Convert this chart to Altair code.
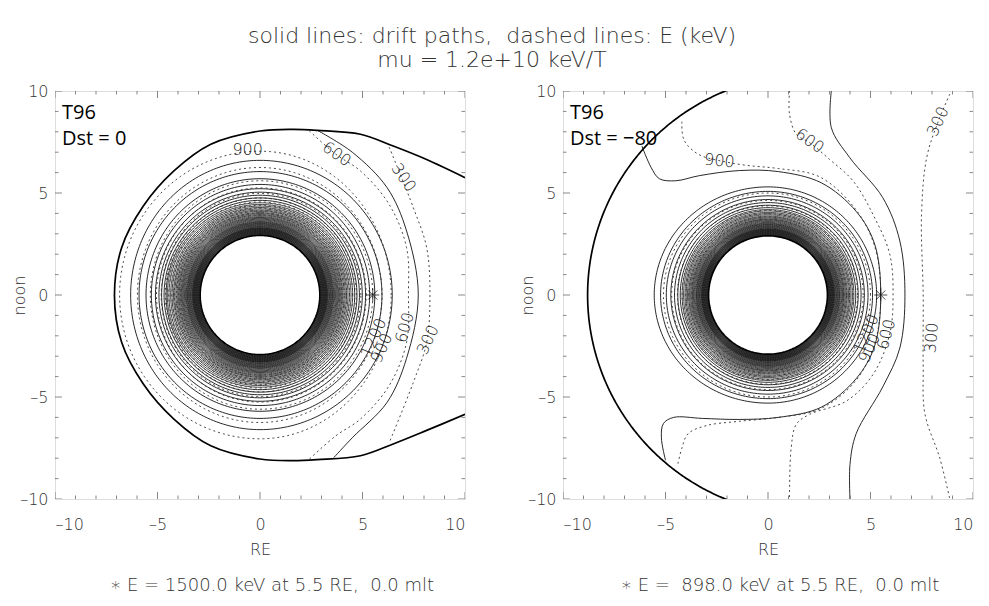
import math
import altair as alt
import pandas as pd

W, H = 410, 408
NPTS = 240
SP = "\u00a0"

# ---------------- data ----------------
TITLE = ["solid lines: drift paths," + SP + " dashed lines: E (keV)", "mu = 1.2e+10 keV/T"]
TICK_VALUES = list(range(-10, 11))
AXIS_LABELS = [-10, -5, 0, 5, 10]

# ----- left panel: T96, Dst = 0 -----
L_name = ["T96", "Dst = 0"]
L_note = "\u2217 E = 1500.0 keV at 5.5 RE," + SP + " 0.0 mlt"
L_inner = 2.92
L_dense = [2.96, 2.98, 3.00, 3.02, 3.04, 3.06, 3.08, 3.10, 3.12, 3.14, 3.16, 3.18, 3.20,
           3.22, 3.24, 3.26, 3.28, 3.30, 3.33, 3.36, 3.39, 3.42, 3.45, 3.48, 3.51,
           3.54, 3.57, 3.60, 3.64, 3.68, 3.72, 3.76, 3.80, 3.84, 3.89, 3.94, 3.99,
           4.04, 4.10, 4.16, 4.22, 4.29, 4.36, 4.44, 4.52]
# (right, left, top) radii of closed drift paths
L_solid = [(4.62, 4.58, 4.64), (4.73, 4.68, 4.76), (4.85, 4.80, 4.89), (4.99, 4.93, 5.04),
           (5.15, 5.10, 5.21), (5.35, 5.30, 5.42), (5.60, 5.56, 5.70), (5.95, 5.90, 6.05),
           (6.45, 6.31, 6.60)]
# (right, left, top) radii of E contours 900 ... 3900 keV
L_dash = [(6.40, 6.85, 7.05), (5.95, 5.98, 6.25), (5.50, 5.35, 5.60), (5.18, 5.05, 5.25),
          (4.92, 4.82, 4.98), (4.70, 4.62, 4.75), (4.52, 4.45, 4.56), (4.37, 4.30, 4.40),
          (4.23, 4.18, 4.26), (4.11, 4.07, 4.13), (4.00, 3.96, 4.02), (3.90, 3.87, 3.92)]
L_bnd_x = [10.0, 8.1, 6.5, 4.9, 2.8, 1.6, 0.0, -2.4, -4.2, -5.7, -6.75, -7.1,
           -6.75, -5.7, -4.2, -2.4, 0.0, 1.6, 2.8, 4.9, 6.5, 8.1, 10.0]
L_bnd_y = [5.75, 6.65, 7.3, 7.88, 8.07, 8.12, 8.04, 7.39, 6.08, 4.35, 2.32, 0.0,
           -2.32, -4.35, -6.08, -7.39, -8.04, -8.12, -8.07, -7.88, -7.3, -6.65, -5.85]
L_out_x = [2.8, 4.5, 6.2, 7.15, 7.72, 7.15, 6.2, 4.5, 3.6]
L_out_y = [8.07, 7.0, 5.26, 3.14, 0.0, -3.1, -5.26, -7.0, -7.97]
L_e600_x = [2.4, 3.7, 4.9, 6.3, 7.15, 7.24, 7.15, 6.3, 4.9, 3.7, 2.4]
L_e600_y = [8.05, 6.9, 6.08, 4.44, 2.32, 0.0, -2.32, -4.44, -6.08, -6.9, -8.05]
L_e300_x = [6.3, 7.48, 8.13, 8.29, 8.13, 7.48, 6.3]
L_e300_y = [7.25, 4.28, 2.32, 0.0, -2.32, -4.28, -7.25]
L_lab_t = ["900", "600", "300", "1200", "900", "600", "300"]
L_lab_x = [-0.6, 3.74, 7.0, 5.55, 5.95, 7.07, 8.2]
L_lab_y = [7.1, 6.9, 5.75, -2.1, -2.6, -1.6, -2.2]
L_lab_a = [0, 35, 55, 294, 294, 286, 295]

# ----- right panel: T96, Dst = -80 -----
R_name = ["T96", "Dst = \u221280"]
R_note = "\u2217 E =" + SP + " 898.0 keV at 5.5 RE," + SP + " 0.0 mlt"
R_inner = 2.9
R_dense = [2.93, 2.95, 2.97, 2.99, 3.01, 3.03, 3.05, 3.07, 3.09, 3.11, 3.13, 3.15, 3.17,
           3.19, 3.21, 3.23, 3.25, 3.28, 3.31, 3.34, 3.37, 3.40, 3.43, 3.46, 3.49,
           3.52, 3.56, 3.60, 3.64, 3.68, 3.72, 3.77, 3.82, 3.87, 3.93, 3.99, 4.05,
           4.12, 4.19]
R_solid = [(4.28, 4.28, 4.28), (4.40, 4.40, 4.40), (4.54, 4.56, 4.53), (4.70, 4.74, 4.68),
           (4.88, 4.96, 4.86), (5.10, 5.24, 5.08), (5.30, 5.55, 5.30)]
R_dash = [(5.00, 5.10, 5.00), (4.64, 4.70, 4.64), (4.37, 4.42, 4.37), (4.15, 4.19, 4.15),
          (3.98, 4.01, 3.98), (3.83, 3.86, 3.83), (3.70, 3.72, 3.70)]
# outer boundary: arc (centre x, centre y, radius, start deg, end deg)
R_bnd_arc = (2.0, 0.0, 10.8, 105.0, 255.0)
R_wing_x = [-6.15, -5.7, -5.3, -4.5, -3.35, -1.4, 0.5, 2.6, 4.3, 5.2, 5.5, 5.2, 4.3,
            2.6, 0.5, -1.4, -3.2, -4.6, -5.1, -5.2, -5.0]
R_wing_y = [7.3, 6.25, 5.7, 5.6, 5.85, 6.1, 6.05, 5.5, 4.1, 2.5, 0.0, -2.5, -4.1,
            -5.5, -6.0, -6.1, -6.05, -6.0, -6.3, -7.0, -8.1]
R_bulge_x = [3.09, 3.09, 3.99, 5.6, 6.43, 6.68, 6.43, 5.6, 4.3, 4.0, 4.0]
R_bulge_y = [10.0, 8.2, 6.73, 4.77, 2.65, 0.0, -2.6, -4.5, -6.8, -8.3, -10.0]
R_e900_x = [-4.2, -4.1, -3.4, -2.2, -1.0, 0.5, 2.5, 4.2, 5.2, 5.5, 5.2, 4.2, 2.5,
            0.5, -1.5, -3.0, -3.9, -4.2, -4.4]
R_e900_y = [8.5, 7.6, 6.9, 6.55, 6.35, 6.2, 5.8, 4.3, 2.4, 0.0, -2.4, -4.3, -5.6,
            -6.0, -6.2, -6.4, -6.8, -7.5, -8.3]
R_e600_x = [1.05, 1.05, 1.38, 2.03, 3.0, 4.15, 5.12, 5.94, 6.1, 5.94, 5.12, 3.82,
            2.03, 1.38, 1.13, 1.05]
R_e600_y = [10.0, 8.86, 7.88, 7.47, 6.65, 5.59, 3.95, 2.0, 0.0, -1.9, -3.9, -5.2,
            -5.85, -6.34, -7.5, -10.0]
R_e300_x = [8.87, 8.3, 7.74, 7.49, 7.57, 7.57, 7.65, 8.38, 8.87]
R_e300_y = [9.85, 8.5, 6.73, 3.96, 0.0, -3.4, -5.8, -8.0, -10.0]
R_lab_t = ["900", "600", "300", "1200", "900", "600", "300"]
R_lab_x = [-2.37, 2.03, 8.3, 4.8, 4.96, 5.78, 7.98]
R_lab_y = [6.57, 7.55, 8.5, -1.9, -2.6, -1.93, -2.1]
R_lab_a = [5, 35, 295, 294, 294, 285, 275]

STAR_X = [5.5]
STAR_Y = [0.0]

# ---------------- helpers ----------------
def ring(rr, rl, rt, cx=0.0, cy=0.0, a0=0.0, a1=360.0):
    xs, ys = [], []
    for k in range(NPTS + 1):
        t = math.radians(a0 + (a1 - a0) * k / NPTS)
        c, s = math.cos(t), math.sin(t)
        xs.append(cx + (rr if c >= 0 else rl) * c)
        ys.append(cy + rt * s)
    return xs, ys


def frame(curves):
    rows = []
    for cid, (xs, ys) in enumerate(curves):
        for i, (x, y) in enumerate(zip(xs, ys)):
            rows.append({"x": x, "y": y, "cid": cid, "i": i})
    return pd.DataFrame(rows)


XS = alt.Scale(domain=[-10, 10], nice=False, zero=False)
YS = alt.Scale(domain=[-10, 10], nice=False, zero=False)
FONT = "DejaVu Sans"
LW = 200
LABEL_COLOR = "#333"
LBL_EXPR = "replace(datum.label, '\u2212', '\u2013')"

XA = alt.Axis(values=AXIS_LABELS, ticks=False, grid=False, domain=False,
              labelFont=FONT, labelFontSize=16, labelFontWeight=LW, labelColor=LABEL_COLOR,
              labelPadding=17, labelExpr=LBL_EXPR, title="RE", titleFont=FONT,
              titleFontSize=16, titleFontWeight=LW, titleColor=LABEL_COLOR,
              titlePadding=9)
YA = alt.Axis(values=AXIS_LABELS, ticks=False, grid=False, domain=False,
              labelFont=FONT, labelFontSize=16, labelFontWeight=LW, labelColor=LABEL_COLOR,
              labelPadding=7, labelExpr=LBL_EXPR, title="noon", titleFont=FONT,
              titleFontSize=16, titleFontWeight=LW, titleColor=LABEL_COLOR,
              titleX=-36, titleY=H / 2, titleAngle=270, titleAlign="center",
              titleBaseline="middle")


def enc_xy(xf="x:Q", yf="y:Q"):
    return dict(x=alt.X(xf, scale=XS, axis=XA), y=alt.Y(yf, scale=YS, axis=YA))


def lines(df, width, color, dash=None, interp="linear"):
    kw = dict(strokeWidth=width, color=color, clip=True, interpolate=interp)
    if dash:
        kw["strokeDash"] = dash
    return alt.Chart(df).mark_line(**kw).encode(
        detail="cid:N", order="i:Q", **enc_xy())


def tick_layers():
    tdf = pd.DataFrame({"v": TICK_VALUES})
    base = alt.Chart(tdf).transform_calculate(len="datum.v % 5 == 0 ? 14 : 7")
    out = []
    for pos in (0, H):
        out.append(base.mark_tick(clip=True, color="#555", thickness=1).encode(
            x=alt.X("v:Q", scale=XS, axis=XA), y=alt.value(pos),
            size=alt.Size("len:Q", scale=None, legend=None)))
    for pos in (0, W):
        out.append(base.mark_tick(clip=True, color="#555", thickness=1).encode(
            y=alt.Y("v:Q", scale=YS, axis=YA), x=alt.value(pos),
            size=alt.Size("len:Q", scale=None, legend=None)))
    return out


def panel(name, note, inner, dense, solid, dash, thick_curves, thin_curves, dash_curves,
          lab_t, lab_x, lab_y, lab_a):
    dense_df = frame([ring(r, r, r) for r in dense])
    solid_df = frame([ring(*t) for t in solid])
    thin_df = frame(thin_curves)
    dash_df = frame([ring(*t) for t in dash])
    dash2_df = frame(dash_curves)
    thick_df = frame([ring(inner, inner, inner)])
    thick2_df = frame(thick_curves)

    layers = [
        lines(dense_df, 0.75, "#111"),
        lines(solid_df, 0.9, "#111"),
        lines(thin_df, 0.9, "#111", interp="catmull-rom"),
        lines(dash_df, 0.9, "#333", dash=[2, 3]),
        lines(dash2_df, 0.9, "#333", dash=[2, 3], interp="catmull-rom"),
        lines(thick_df, 1.7, "#000"),
        lines(thick2_df, 1.7, "#000", interp="catmull-rom"),
    ]
    lab_df = pd.DataFrame({"t": lab_t, "x": lab_x, "y": lab_y, "a": lab_a})
    for _, r in lab_df.iterrows():
        layers.append(alt.Chart(pd.DataFrame([r])).mark_text(
            font=FONT, fontSize=16, fontWeight=LW, color="#222", angle=float(r["a"])).encode(
            text="t:N", **enc_xy()))
    star_df = pd.DataFrame({"x": STAR_X, "y": STAR_Y})
    layers.append(alt.Chart(star_df).mark_point(
        shape="M-1,0L1,0M0,-1L0,1M-0.7,-0.7L0.7,0.7M-0.7,0.7L0.7,-0.7",
        size=170, stroke="#000", strokeWidth=1, filled=False).encode(**enc_xy()))
    for k, txt in enumerate(name):
        layers.append(alt.Chart(pd.DataFrame({"t": [txt]})).mark_text(
            font="Open Sans", fontSize=20, color="#000", align="left",
            baseline="middle").encode(
            x=alt.value(7), y=alt.value(22 + 26 * k), text="t:N"))
    layers.append(alt.Chart(pd.DataFrame({"t": [note]})).mark_text(
        font=FONT, fontSize=18, fontWeight=LW, color=LABEL_COLOR, align="center",
        baseline="middle").encode(
        x=alt.value(W / 2 + 12), y=alt.value(H + 87), text="t:N"))
    layers += tick_layers()
    return alt.layer(*layers).properties(width=W, height=H)


left = panel(
    L_name, L_note, L_inner, L_dense, L_solid, L_dash,
    thick_curves=[(L_bnd_x, L_bnd_y)],
    thin_curves=[(L_out_x, L_out_y)],
    dash_curves=[(L_e600_x, L_e600_y), (L_e300_x, L_e300_y)],
    lab_t=L_lab_t, lab_x=L_lab_x, lab_y=L_lab_y, lab_a=L_lab_a)

cx, cy, rad, a0, a1 = R_bnd_arc
bx, by = ring(rad, rad, rad, cx, cy, a0, a1)
right = panel(
    R_name, R_note, R_inner, R_dense, R_solid, R_dash,
    thick_curves=[(bx, by)],
    thin_curves=[(R_wing_x, R_wing_y), (R_bulge_x, R_bulge_y)],
    dash_curves=[(R_e900_x, R_e900_y), (R_e600_x, R_e600_y), (R_e300_x, R_e300_y)],
    lab_t=R_lab_t, lab_x=R_lab_x, lab_y=R_lab_y, lab_a=R_lab_a)

chart = alt.hconcat(left, right, spacing=52).properties(
    title=alt.TitleParams(TITLE, font=FONT, fontSize=22, fontWeight=LW,
                          color="#333", anchor="middle", lineHeight=24, offset=11),
    padding={"left": 10, "top": 24, "right": 2, "bottom": 2},
).configure_view(stroke="#555", strokeWidth=1).configure(background="white")

chart.save("out.html", embed_options={"renderer": "svg", "actions": False})
